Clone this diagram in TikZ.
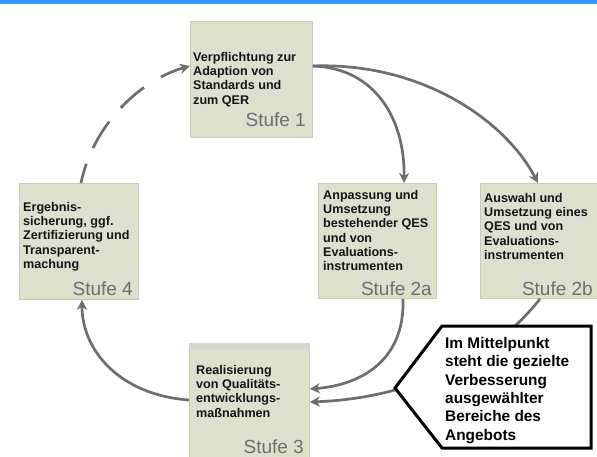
\documentclass[tikz,border=0pt]{standalone}
\usepackage{fontspec}
\setmainfont{Liberation Sans}
\usetikzlibrary{arrows.meta}
\definecolor{boxfill}{HTML}{DEE0CE}
\definecolor{boxedge}{HTML}{CACCBB}
\definecolor{arrowgray}{HTML}{6E6E6E}
\definecolor{labelgray}{HTML}{6E6E6E}
\definecolor{topblue}{HTML}{3399FF}
\definecolor{bandgray}{HTML}{D6D6D3}
\begin{document}
\begin{tikzpicture}[x=1pt,y=-1pt,
  stagebox/.style={draw=boxedge, fill=boxfill, line width=0.8pt, inner sep=0pt, anchor=north west, minimum width=120pt, minimum height=116pt},
  boxtext/.style={anchor=north west, inner sep=0pt, align=left, font=\fontsize{12.6}{14.3}\selectfont\bfseries, text=black!92},
  stufelabel/.style={anchor=base east, inner sep=0pt, font=\fontsize{19}{20}\selectfont, text=labelgray},
  flow/.style={draw=arrowgray, line width=2.7pt, -{Stealth[length=10pt,width=10pt,inset=3pt]}},
  callout/.style={draw=black, fill=white, line width=3pt, line join=miter},
  callouttext/.style={anchor=north west, inner sep=0pt, align=left, font=\fontsize{15.4}{18.4}\selectfont\bfseries, text=black}
]
\useasboundingbox (0,0) rectangle (597,457);
\fill[white] (0,0) rectangle (597,457);
\fill[topblue] (0,0) rectangle (597,4.5);

% boxes
\node[stagebox, minimum width=122pt] (s1) at (190,21) {};
\node[stagebox, minimum width=118pt, minimum height=115pt] (s2a) at (318,183) {};
\node[stagebox, minimum width=124pt, minimum height=115pt] (s2b) at (480,183) {};
\node[stagebox, minimum width=119pt, minimum height=116pt] (s4) at (19,183) {};
\node[stagebox, minimum width=120pt, minimum height=120pt] (s3) at (189,343) {};
\fill[bandgray] (s3.north west) rectangle ([yshift=-6pt]s3.north east);

% texts
\node[boxtext] (t1) at (193,52) {Verpflichtung zur\\Adaption von\\Standards und\\zum QER};
\node[stufelabel] (l1) at (306,127) {Stufe 1};
\node[boxtext] (t2a) at (323,190) {Anpassung und\\Umsetzung\\bestehender QES\\und von\\Evaluations-\\instrumenten};
\node[stufelabel] (l2a) at (432,295) {Stufe 2a};
\node[boxtext] (t2b) at (484,193) {Auswahl und\\Umsetzung eines\\QES und von\\Evaluations-\\instrumenten};
\node[stufelabel] (l2b) at (593,295) {Stufe 2b};
\node[boxtext] (t4) at (23,202) {Ergebnis-\\sicherung, ggf.\\Zertifizierung und\\Transparent-\\machung};
\node[stufelabel] (l4) at (133,295) {Stufe 4};
\node[boxtext] (t3) at (196,365) {Realisierung\\von Qualitäts-\\entwicklungs-\\maßnahmen};
\node[stufelabel] (l3) at (304,453) {Stufe 3};

% arrows
\draw[flow] ([yshift=-45pt]s1.north east) .. controls +(63,2) and +(1,-63) .. ([xshift=86pt]s2a.north west);
\draw[flow] ([yshift=-45pt]s1.north east) .. controls +(108,-4) and +(-33,-63) .. ([xshift=58pt]s2b.north west);
\draw[flow] ([xshift=85pt]s2a.south west) .. controls +(2,62) and +(51,-4) .. ([yshift=-46pt]s3.north east);
\draw[flow] ([xshift=60pt]s2b.south west) .. controls +(-40,52) and +(111,-4) .. ([yshift=-59pt]s3.north east);
\draw[flow] ([yshift=-57pt]s3.north west) .. controls +(-69,-5) and +(0,51) .. ([xshift=63pt]s4.south west);
\draw[flow, dash pattern=on 20pt off 17pt on 31pt off 18pt on 31pt off 20pt on 60pt] ([xshift=62pt]s4.north west) .. controls +(12,-58) and +(-50,14) .. ([yshift=-45pt]s1.north west);

% callout
\node[inner sep=0pt] (cpt) at (395,388) {};
\draw[callout] (cpt.center) -- (442,326) -- (591,326) -- (591,448) -- (442,448) -- cycle;
\node[callouttext] (ct) at (445,337) {Im Mittelpunkt\\steht die gezielte\\Verbesserung\\ausgewählter\\Bereiche des\\Angebots};
\end{tikzpicture}
\end{document}
